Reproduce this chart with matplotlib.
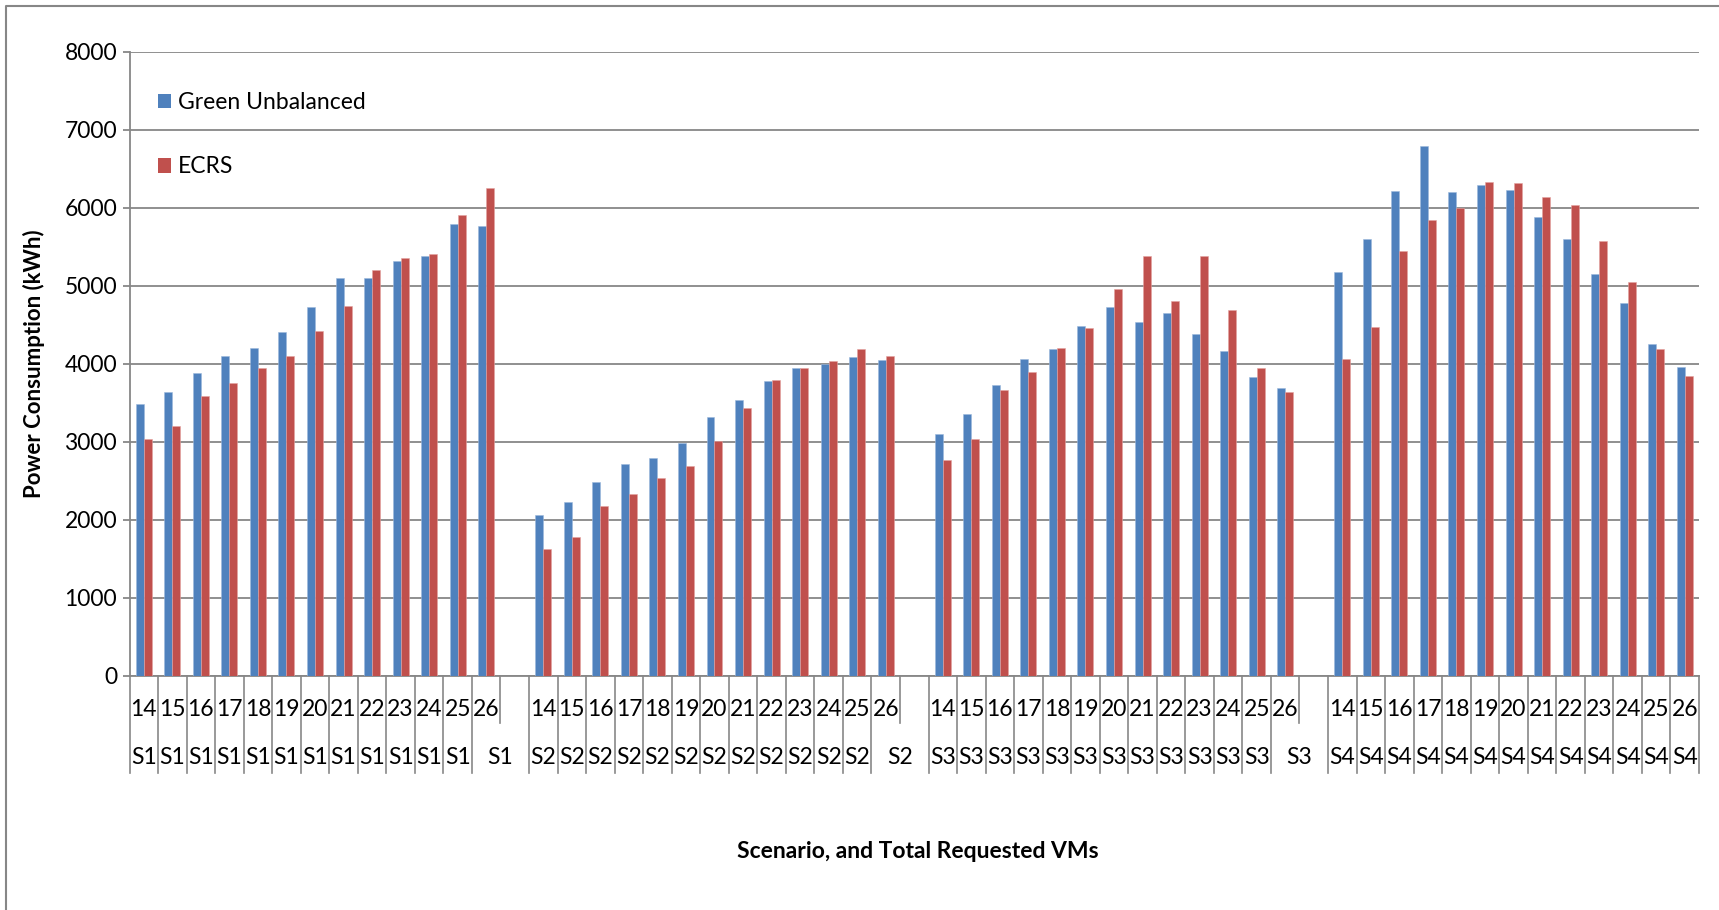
import matplotlib
matplotlib.use("Agg")
import matplotlib.pyplot as plt
from matplotlib.lines import Line2D
from matplotlib.patches import Patch

plt.rcParams['font.family'] = ['Lato', 'DejaVu Sans']

# Data: power consumption (kWh) per scenario and number of requested VMs
scenarios = ["S1", "S2", "S3", "S4"]
vm_counts = [14, 15, 16, 17, 18, 19, 20, 21, 22, 23, 24, 25, 26]

green_unbalanced = {
    "S1": [3480, 3640, 3885, 4100, 4205, 4410, 4730, 5095, 5095, 5320, 5385, 5790, 5770],
    "S2": [2060, 2230, 2480, 2710, 2790, 2990, 3315, 3530, 3785, 3945, 4000, 4085, 4050],
    "S3": [3100, 3350, 3730, 4065, 4190, 4480, 4725, 4540, 4650, 4380, 4165, 3830, 3695],
    "S4": [5170, 5595, 6215, 6785, 6205, 6295, 6220, 5885, 5595, 5150, 4775, 4250, 3955],
}
ecrs = {
    "S1": [3035, 3200, 3590, 3750, 3945, 4105, 4425, 4745, 5205, 5355, 5405, 5900, 6245],
    "S2": [1625, 1785, 2175, 2335, 2535, 2690, 3005, 3435, 3795, 3945, 4035, 4195, 4100],
    "S3": [2770, 3030, 3660, 3895, 4205, 4455, 4960, 5380, 4810, 5380, 4685, 3945, 3635],
    "S4": [4065, 4475, 5445, 5840, 5990, 6330, 6310, 6140, 6040, 5575, 5045, 4195, 3840],
}

series_labels = ["Green Unbalanced", "ECRS"]
blue = "#4F81BD"
red = "#C0504D"
grid_col = "#878787"
fs = 16.5

W, H = 1719, 910
fig = plt.figure(figsize=(W / 100, H / 100), dpi=100)
left_px, right_px, top_px, bottom_px = 129.5, 1699, 51.5, 676
ax = fig.add_axes([left_px / W, (H - bottom_px) / H,
                   (right_px - left_px) / W, (bottom_px - top_px) / H])

n_vm = len(vm_counts)
slots_per_group = n_vm + 1          # one empty slot after each scenario
n_slots = slots_per_group * len(scenarios) - 1

bw = 0.28
for g, sc in enumerate(scenarios):
    xs = [g * slots_per_group + j + 0.5 for j in range(n_vm)]
    ax.bar([x - bw / 2 for x in xs], green_unbalanced[sc], width=bw, color=blue,
           edgecolor="#9DB9DC", linewidth=0.4, zorder=3)
    ax.bar([x + bw / 2 for x in xs], ecrs[sc], width=bw, color=red,
           edgecolor="#E3A3A1", linewidth=0.4, zorder=3)

ax.set_xlim(0, n_slots)
ax.set_ylim(0, 8000)
ax.set_yticks(range(0, 8001, 1000))
ax.yaxis.grid(True, color=grid_col, linewidth=1.3, zorder=0)
ax.set_axisbelow(True)
ax.tick_params(axis="y", length=5, width=1.3, color=grid_col, pad=4, labelsize=fs)
ax.set_xticks([])
for s in ["top", "right"]:
    ax.spines[s].set_visible(False)
for s in ["left", "bottom"]:
    ax.spines[s].set_color(grid_col)
    ax.spines[s].set_linewidth(1.3)

# Two-level category axis drawn below the plot
tr = ax.get_xaxis_transform()
axh = bottom_px - top_px
y_row1 = -(710 - bottom_px) / axh
y_row2 = -(758 - bottom_px) / axh
y_mid = -(723 - bottom_px) / axh
y_end = -(773 - bottom_px) / axh

for b in range(n_slots + 1):
    merged = (b % slots_per_group == n_vm) and b < n_slots
    ax.add_line(Line2D([b, b], [0, y_mid if merged else y_end], transform=tr,
                       color=grid_col, linewidth=1.2, clip_on=False))

for g, sc in enumerate(scenarios):
    base = g * slots_per_group
    for j, v in enumerate(vm_counts):
        ax.text(base + j + 0.5, y_row1, str(v), transform=tr, ha="center",
                va="center", fontsize=fs, clip_on=False)
    last_j = n_vm - 1 if g < len(scenarios) - 1 else n_vm
    for j in range(last_j):
        ax.text(base + j + 0.5, y_row2, sc, transform=tr, ha="center",
                va="center", fontsize=fs, clip_on=False)
    if g < len(scenarios) - 1:
        ax.text(base + n_vm, y_row2, sc, transform=tr, ha="center",
                va="center", fontsize=fs, clip_on=False)

# Legend
handles = [Patch(facecolor=blue), Patch(facecolor=red)]
ax.legend(handles, series_labels, loc="upper left", bbox_to_anchor=(0.012, 0.95),
          frameon=False, fontsize=fs, handlelength=0.6, handleheight=0.6,
          handletextpad=0.3, labelspacing=1.9, borderaxespad=0)

# Axis titles
fig.text(34 / W, 1 - 364 / H, "Power Consumption (kWh)", rotation=90,
         ha="center", va="center", fontsize=16, fontweight="bold")
fig.text(918 / W, 1 - 852 / H, "Scenario, and Total Requested VMs",
         ha="center", va="center", fontsize=16.5, fontweight="bold")

# Chart-area border
fig.add_artist(Line2D([5.5 / W, 5.5 / W, 1.0], [0.0, 1 - 5.5 / H, 1 - 5.5 / H],
                      transform=fig.transFigure, color=grid_col, linewidth=1.5))

fig.savefig("out.png", dpi=100)
